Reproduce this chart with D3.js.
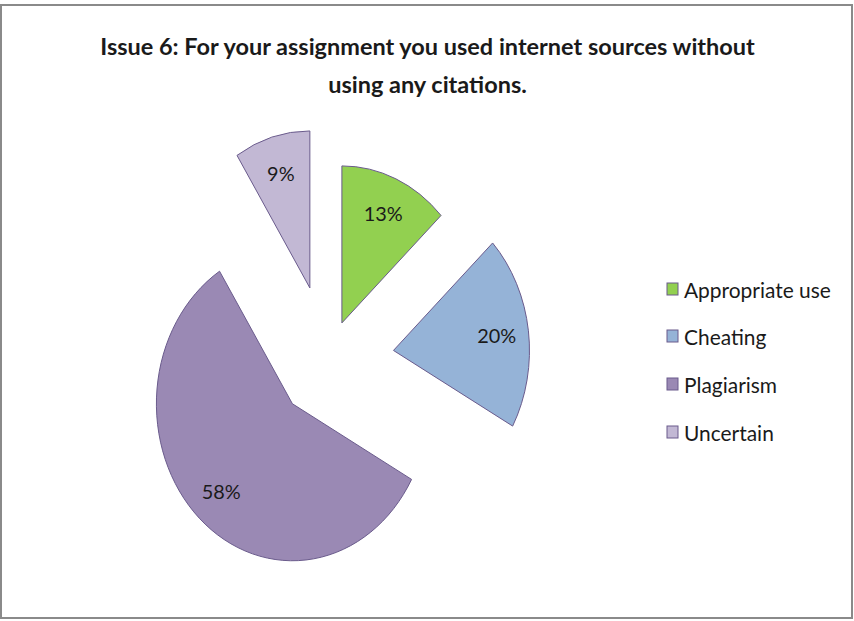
<!DOCTYPE html>
<html>
<head>
<meta charset="utf-8">
<script src="https://cdn.jsdelivr.net/npm/d3@7"></script>
<style>
  html, body { margin: 0; padding: 0; background: #fff; }
  svg { display: block; }
  text { font-family: Lato, "Open Sans", sans-serif; fill: #1a1a1a; }
</style>
</head>
<body>
<svg id="chart" width="854" height="621"></svg>
<script>
// Survey answers for issue 6
const categories = ["Appropriate use", "Cheating", "Plagiarism", "Uncertain"];
const shares = [13, 20, 58, 9];
const sliceColors = ["#92d050", "#95b3d7", "#9a89b4", "#c2b8d4"];
const titleLines = [
  "Issue 6: For your assignment you used internet sources without",
  "using any citations."
];

// Layout
const W = 854, H = 621;
const center = { x: 328, y: 360 };
const rx = 136, ry = 157;           // pie is drawn slightly taller than wide
const sy = ry / rx;
const explode = [35, 66, 52, 65];   // how far each slice is pulled out
const labelDist = 104;

const svg = d3.select("#chart");

// chart area border
svg.append("rect")
  .attr("x", 1).attr("y", 5)
  .attr("width", W - 3).attr("height", H - 8)
  .attr("fill", "#fff")
  .attr("stroke", "#8a8a8a")
  .attr("stroke-width", 2);

// size a group of texts so that the first one spans `target` pixels
function fitSize(sel, target, start) {
  sel.style("font-size", start + "px");
  const fs = start * target / sel.nodes()[0].getComputedTextLength();
  sel.style("font-size", fs + "px");
}

// title
const title = svg.append("g").selectAll("text")
  .data(titleLines)
  .join("text")
  .attr("x", 427.5)
  .attr("y", (d, i) => 55 + i * 38)
  .attr("text-anchor", "middle")
  .style("font-weight", "bold")
  .text(d => d);
fitSize(title, 655, 22);

// pie
const pie = d3.pie().sort(null).value(d => d.v)
  .startAngle(0).endAngle(2 * Math.PI);
const arcs = pie(categories.map((c, i) => ({ c, v: shares[i], i })));
const arc = d3.arc().innerRadius(0).outerRadius(rx);

const apex = arcs.map((a, i) => {
  const mid = (a.startAngle + a.endAngle) / 2;
  return {
    mid,
    x: center.x + explode[i] * Math.sin(mid),
    y: center.y - explode[i] * Math.cos(mid) * sy
  };
});

svg.append("g").selectAll("g.slice")
  .data(arcs)
  .join("g")
  .attr("class", "slice")
  .attr("transform", (a, i) => `translate(${apex[i].x},${apex[i].y}) scale(1,${sy})`)
  .append("path")
  .attr("d", arc)
  .attr("fill", (a, i) => sliceColors[i])
  .attr("stroke", "#6a5b8c")
  .attr("stroke-width", 1)
  .attr("vector-effect", "non-scaling-stroke");

// percentage labels
const lbl = svg.append("g").selectAll("text")
  .data(arcs)
  .join("text")
  .attr("x", (a, i) => apex[i].x + labelDist * Math.sin(apex[i].mid))
  .attr("y", (a, i) => apex[i].y - labelDist * Math.cos(apex[i].mid) * sy)
  .attr("text-anchor", "middle")
  .attr("dominant-baseline", "central")
  .text(a => a.data.v + "%");
fitSize(lbl, 39, 20);

// legend
const legY = [289, 336, 384, 432];
const leg = svg.append("g").selectAll("g")
  .data(categories)
  .join("g")
  .attr("transform", (c, i) => `translate(667,${legY[i]})`);
leg.append("rect")
  .attr("x", 0).attr("y", -6)
  .attr("width", 11).attr("height", 12)
  .attr("fill", (c, i) => sliceColors[i])
  .attr("stroke", "#6a5b8c")
  .attr("stroke-width", 1);
const legText = leg.append("text")
  .attr("x", 17).attr("y", 0)
  .attr("dominant-baseline", "central")
  .text(c => c);
fitSize(legText, 147, 20);
</script>
</body>
</html>
